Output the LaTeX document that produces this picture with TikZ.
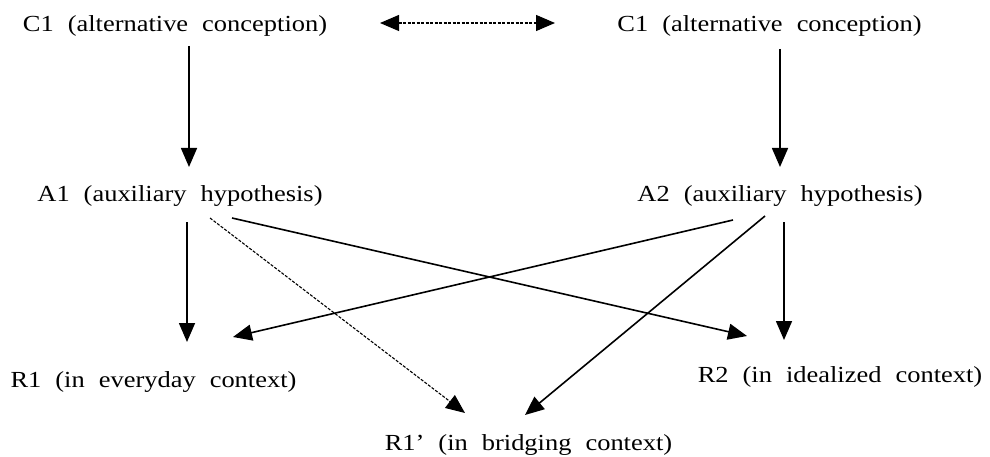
\documentclass[tikz,border=0pt]{standalone}
\usepackage{fontspec}
\setmainfont{Liberation Serif}[Ligatures=ResetAll]
\usetikzlibrary{arrows.meta,calc}
\newcommand\lbltext[1]{\scalebox{1.15}[1]{\spaceskip=0.53em #1}}
\tikzset{
  lbl/.style={inner sep=0pt, anchor=base, font=\fontsize{23}{27}\selectfont},
  tip/.style={-{Triangle[length=19pt,width=16pt]}},
  solidarr/.style={tip, line width=1.6pt},
  dotarr/.style={line width=1.1pt, dash pattern=on 3pt off 1.5pt},
}
\begin{document}
\begin{tikzpicture}[x=1pt,y=-1pt]
\useasboundingbox (0,0) rectangle (990,457);
\node[lbl] (C1L) at (175,32) {\lbltext{C1 (alternative conception)}};
\node[lbl] (C1R) at (769.5,32) {\lbltext{C1 (alternative conception)}};
\node[lbl] (A1) at (180,202) {\lbltext{A1 (auxiliary hypothesis)}};
\node[lbl] (A2) at (780,202) {\lbltext{A2 (auxiliary hypothesis)}};
\node[lbl] (R1) at (153.5,387) {\lbltext{R1 (in everyday context)}};
\node[lbl] (R1p) at (528.5,450) {\lbltext{R1' (in bridging context)}};
\node[lbl] (R2) at (840,382) {\lbltext{R2 (in idealized context)}};
% top double dotted arrow
\draw[dotarr, {Triangle[length=19pt,width=16pt]}-{Triangle[length=19pt,width=16pt]}]
  ($(C1L.base)+(205,-9)$) -- ($(C1R.base)+(-214.5,-9)$);
% C -> A
\draw[solidarr] ($(C1L.base)+(14,14)$) -- ($(A1.base)+(9,-35)$);
\draw[solidarr] ($(C1R.base)+(10.5,17)$) -- ($(A2.base)+(0,-35)$);
% A1 arrows
\draw[solidarr] ($(A1.base)+(7,20)$) -- ($(R1.base)+(33.5,-45)$);
\draw[dotarr, tip] ($(A1.base)+(30,16)$) -- ($(R1p.base)+(-63.5,-37)$);
\draw[solidarr] ($(A1.base)+(52,16)$) -- ($(R2.base)+(-93,-46)$);
% A2 arrows
\draw[solidarr] ($(A2.base)+(-47,18)$) -- ($(R1.base)+(79.5,-50)$);
\draw[solidarr] ($(A2.base)+(-15,14)$) -- ($(R1p.base)+(-3.5,-35)$);
\draw[solidarr] ($(A2.base)+(4,20)$) -- ($(R2.base)+(-56,-42)$);
\end{tikzpicture}
\end{document}
